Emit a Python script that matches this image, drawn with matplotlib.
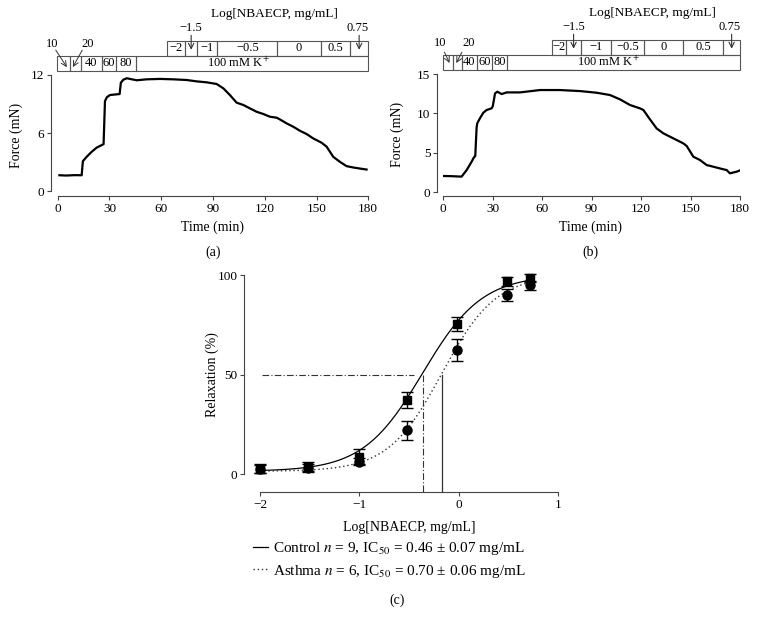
import numpy as np
import matplotlib
matplotlib.use("Agg")
import matplotlib.pyplot as plt
import matplotlib.transforms as mtransforms
from matplotlib.patches import Rectangle
from matplotlib.lines import Line2D

plt.rcParams['font.family'] = ['Liberation Serif', 'DejaVu Serif']
plt.rcParams['mathtext.fontset'] = 'stix'
plt.rcParams['font.size'] = 9.5

# panel (a) trace, time in min, force in mN
a_time = [1, 5, 10, 13.9, 14.6, 16.5, 19.7, 22.6, 25.5, 26.6, 27.4, 28.5, 30.3, 33, 35.9,
          36.6, 38, 40, 45.8, 51.6, 59.3, 67, 74.7, 80.5, 86.3, 92.1, 96, 99.8, 103.7, 107.6,
          111.4, 115.3, 119.2, 123, 126.9, 128.8, 132.7, 136.5, 140.4, 144.3, 148.1, 153,
          155.9, 159.7, 163.6, 167.4, 171.3, 175.2, 179]
a_force = [1.65, 1.62, 1.66, 1.65, 3.1, 3.5, 4.07, 4.5, 4.76, 4.86, 9.3, 9.7, 9.93, 9.98, 10.03,
           11.2, 11.5, 11.66, 11.45, 11.55, 11.59, 11.55, 11.48, 11.34, 11.24, 11.07, 10.62, 9.93, 9.14, 8.9,
           8.55, 8.2, 7.97, 7.69, 7.59, 7.41, 7.0, 6.66, 6.24, 5.9, 5.45, 5.0,
           4.59, 3.55, 3.03, 2.59, 2.45, 2.34, 2.24]

# panel (b) trace
b_time = [0, 5, 11.1, 14.2, 17.2, 18.6, 19.4, 20.2, 20.6, 22.2, 24.3, 26.3, 29.3, 30.0, 31.4,
          32.8, 35.4, 38.4, 46.5, 58.7, 70.8, 82.9, 93, 101.1, 107.2, 113.3, 119.3, 121.4, 125.4,
          129.4, 133.5, 139.6, 145.6, 147.7, 151.7, 155.7, 159.8, 163.8, 169.9, 171.9, 173.9, 178, 179.6]
b_force = [2.07, 2.05, 1.99, 2.83, 3.89, 4.44, 4.6, 8.2, 8.75, 9.38, 10.1, 10.44, 10.65, 10.9, 12.55,
           12.76, 12.46, 12.67, 12.67, 12.97, 12.97, 12.84, 12.63, 12.34, 11.79, 11.07, 10.65, 10.44, 9.25,
           8.11, 7.48, 6.84, 6.21, 5.87, 4.52, 4.1, 3.46, 3.25, 2.92, 2.83, 2.41, 2.62, 2.75]

# protocol boxes (cell edges in min)
a_lower_edges = [-0.6, 7.1, 13.3, 25.5, 33.8, 45.4, 180]
a_upper_edges = [63.5, 73.8, 80.9, 92.5, 127.3, 152.4, 169.4, 180]
b_lower_edges = [-0.4, 5.7, 11.2, 20.3, 29.4, 38.8, 180]
b_upper_edges = [66, 74.5, 83.6, 101.5, 121.8, 145.5, 169.9, 180]
lower_labels = ['', '', '40', '60', '80', '']
upper_labels = ['\u22122', '', '\u22121', '\u22120.5', '0', '0.5', '']

# panel (c) concentration-response
log_conc = [-2, -1.52, -1, -0.52, -0.02, 0.48, 0.72]
ctrl_y = [2.8, 3.8, 8.9, 37.3, 75.2, 96.9, 98.5]
ctrl_err = [2.2, 2.3, 3.6, 4.1, 3.5, 2.3, 2.0]
asth_y = [2.5, 3.2, 6.4, 22.2, 62.4, 90.0, 94.8]
asth_err = [2.0, 2.0, 1.8, 4.8, 5.3, 3.0, 2.4]
# fitted Hill parameters: bottom, top, logIC50, slope
ctrl_fit = [1.5, 100, -0.365, 1.45]
asth_fit = [1.5, 100, -0.17, 1.6]

spine_col = '#444444'


def style_axis(ax, left_out):
    ax.spines['top'].set_visible(False)
    ax.spines['right'].set_visible(False)
    ax.spines['left'].set_position(('outward', left_out))
    for s in ['left', 'bottom']:
        ax.spines[s].set_color(spine_col)
        ax.spines[s].set_linewidth(0.8)
    ax.tick_params(length=3, width=0.8, color=spine_col, labelsize=9.5, pad=2)


def protocol(ax, lower_edges, upper_edges, k_x, lab10, lab20, a10, a20, arr_top):
    tr = mtransforms.blended_transform_factory(ax.transData, ax.transAxes)
    y0, y1, y2 = 1.035, 1.16, 1.28
    for i in range(len(lower_edges) - 1):
        ax.add_patch(Rectangle((lower_edges[i], y0), lower_edges[i + 1] - lower_edges[i], y1 - y0,
                               transform=tr, fill=False, ec='#555555', lw=0.8, clip_on=False))
        if lower_labels[i]:
            ax.text((lower_edges[i] + lower_edges[i + 1]) / 2, (y0 + y1) / 2, lower_labels[i],
                    transform=tr, ha='center', va='center', fontsize=9)
    ax.text(k_x, (y0 + y1) / 2, '100 mM K$^{+}$', transform=tr, ha='center', va='center', fontsize=9)
    for i in range(len(upper_edges) - 1):
        ax.add_patch(Rectangle((upper_edges[i], y1), upper_edges[i + 1] - upper_edges[i], y2 - y1,
                               transform=tr, fill=False, ec='#555555', lw=0.8, clip_on=False))
        xc = (upper_edges[i] + upper_edges[i + 1]) / 2
        if upper_labels[i]:
            ax.text(xc, (y1 + y2) / 2, upper_labels[i], transform=tr, ha='center', va='center', fontsize=9)
        else:
            ax.annotate('', xy=(xc, 1.185), xytext=(xc, arr_top), xycoords=tr, textcoords=tr,
                        arrowprops=dict(arrowstyle='->', lw=0.8, color='#333333'), annotation_clip=False)
    # -1.5 and 0.75 labels above the arrow cells
    c15 = (upper_edges[1] + upper_edges[2]) / 2
    c075 = (upper_edges[-2] + upper_edges[-1]) / 2
    ax.text(c15, 1.39, '\u22121.5', transform=tr, ha='center', va='center', fontsize=9)
    ax.text(c075 - 1, 1.39, '0.75', transform=tr, ha='center', va='center', fontsize=9)
    ax.text((upper_edges[0] + 180) / 2 + 4, 1.505, 'Log[NBAECP, mg/mL]', transform=tr,
            ha='center', va='center', fontsize=9.5)
    # 10 and 20 mM labels with arrows
    ax.text(lab10, 1.255, '10', transform=tr, ha='center', va='center', fontsize=9)
    ax.text(lab20, 1.255, '20', transform=tr, ha='center', va='center', fontsize=9)
    for start, end in [a10, a20]:
        ax.annotate('', xy=end, xytext=start, xycoords=tr, textcoords=tr,
                    arrowprops=dict(arrowstyle='->', lw=0.7, color='#333333'), annotation_clip=False)


fig = plt.figure(figsize=(7.57, 6.19), dpi=100)

# panel (a)
ax1 = fig.add_axes([0.0762, 0.6834, 0.4103, 0.1955])
ax1.plot(a_time, a_force, color='black', lw=1.6)
ax1.set_xlim(0, 180)
ax1.set_ylim(-0.49, 12)
ax1.set_xticks([0, 30, 60, 90, 120, 150, 180])
ax1.set_yticks([0, 6, 12])
ax1.spines['left'].set_bounds(0, 12)
style_axis(ax1, 5.0)
ax1.set_xlabel('Time (min)', fontsize=10)
ax1.xaxis.set_label_coords(0.497, -0.2)
ax1.set_ylabel('Force (mN)', fontsize=10)
ax1.yaxis.set_label_coords(-0.112, 0.5)
protocol(ax1, a_lower_edges, a_upper_edges, 104.5, -3, 17.3,
         ((-2, 1.225), (6.2, 1.045)), ((15, 1.225), (8, 1.045)), 1.35)

# panel (b)
ax2 = fig.add_axes([0.5856, 0.6838, 0.3919, 0.1966])
ax2.plot(b_time, b_force, color='black', lw=1.6)
ax2.set_xlim(0, 180)
ax2.set_ylim(-0.43, 15)
ax2.set_xticks([0, 30, 60, 90, 120, 150, 180])
ax2.set_yticks([0, 5, 10, 15])
ax2.spines['left'].set_bounds(0, 15)
style_axis(ax2, 4.3)
ax2.set_xlabel('Time (min)', fontsize=10)
ax2.xaxis.set_label_coords(0.495, -0.2)
ax2.set_ylabel('Force (mN)', fontsize=10)
ax2.yaxis.set_label_coords(-0.132, 0.5)
protocol(ax2, b_lower_edges, b_upper_edges, 100, -2, 15.2,
         ((0, 1.2), (4.5, 1.07)), ((12.1, 1.2), (7.1, 1.07)), 1.35)

# panel (c)
ax3 = fig.add_axes([0.3435, 0.2057, 0.394, 0.35])
xs = np.linspace(-2, 0.72, 300)


def hill(x, p):
    return p[0] + (p[1] - p[0]) / (1 + 10 ** ((p[2] - x) * p[3]))


ax3.plot(xs, hill(xs, ctrl_fit), color='black', lw=0.9, clip_on=False)
ax3.plot(xs, hill(xs, asth_fit), color='#333333', lw=1.0, ls=(0, (1, 2)), clip_on=False)
ax3.errorbar(log_conc, ctrl_y, yerr=ctrl_err, fmt='s', color='black', ms=5.5, capsize=4.5,
             elinewidth=1.0, capthick=1.0, clip_on=False)
ax3.errorbar(log_conc, asth_y, yerr=asth_err, fmt='o', color='black', ms=6.5, capsize=4.5,
             elinewidth=1.0, capthick=1.0, clip_on=False)
ax3.plot([-1.98, -0.45], [50, 50], color='#333333', lw=0.8, ls=(0, (6, 2, 1, 2)))
ax3.plot([ctrl_fit[2], ctrl_fit[2]], [50, -8.7], color='#333333', lw=0.8, ls=(0, (6, 2, 1, 2)), clip_on=False)
ax3.plot([asth_fit[2], asth_fit[2]], [50, -8.7], color='#333333', lw=0.9, clip_on=False)
ax3.set_xlim(-2, 1)
ax3.set_ylim(-8.7, 100)
ax3.set_xticks([-2, -1, 0, 1])
ax3.set_yticks([0, 50, 100])
ax3.spines['left'].set_bounds(0, 100)
style_axis(ax3, 11.3)
ax3.set_xlabel('Log[NBAECP, mg/mL]', fontsize=10)
ax3.xaxis.set_label_coords(0.5, -0.135)
ax3.set_ylabel('Relaxation (%)', fontsize=10)
ax3.yaxis.set_label_coords(-0.137, 0.54)

handles = [Line2D([], [], color='black', lw=0.9),
           Line2D([], [], color='#333333', lw=1.0, ls=(0, (1, 2)))]
labels = ['Control $n$ = 9, IC$_{50}$ = 0.46 \u00b1 0.07 mg/mL',
          'Asthma $n$ = 6, IC$_{50}$ = 0.70 \u00b1 0.06 mg/mL']
fig.legend(handles, labels, loc='upper left', bbox_to_anchor=(0.334, 0.127), frameon=False,
           borderpad=0, borderaxespad=0, handlelength=1.0, handletextpad=0.3, labelspacing=0.35,
           fontsize=11)

fig.text(213 / 757, 1 - 252 / 619, '(a)', ha='center', va='center', fontsize=10)
fig.text(590 / 757, 1 - 252 / 619, '(b)', ha='center', va='center', fontsize=10)
fig.text(397 / 757, 1 - 600 / 619, '(c)', ha='center', va='center', fontsize=10)

fig.savefig('out.png', dpi=100)
